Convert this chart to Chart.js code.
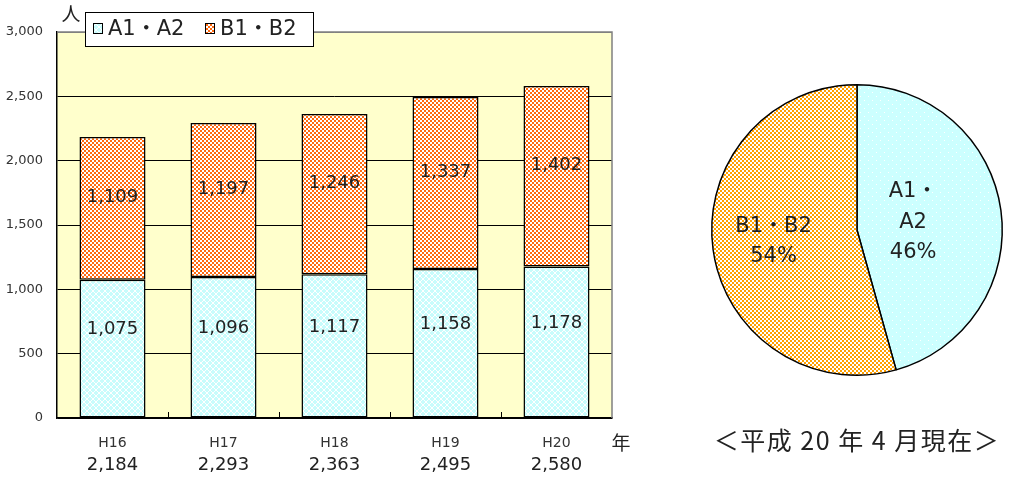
<!DOCTYPE html>
<html lang="ja">
<head>
<meta charset="UTF-8">
<title>療育手帳所持者数の推移</title>
<script src="https://cdn.jsdelivr.net/npm/chart.js"></script>
<style>
  body { margin: 0; background: #fff; width: 1014px; height: 487px; overflow: hidden; position: relative; }
  #barWrap { position: absolute; left: 0; top: 0; width: 660px; height: 487px; }
  #pieWrap { position: absolute; left: 700px; top: 0; width: 314px; height: 487px; }
  #caption { position: absolute; left: 700px; top: 424px; width: 314px; text-align: center;
             font: 25px "Noto Sans CJK JP", sans-serif; line-height: 30px; color: #222; letter-spacing: 1.5px; }
</style>
</head>
<body>
<div id="barWrap"><canvas id="bar"></canvas></div>
<div id="pieWrap"><canvas id="pie"></canvas></div>
<div id="caption">＜平成 20 年 4 月現在＞</div>
<script>
// data
const years = ['H16', 'H17', 'H18', 'H19', 'H20'];
const seriesNames = ['A1・A2', 'B1・B2'];
const a12 = [1075, 1096, 1117, 1158, 1178];
const b12 = [1109, 1197, 1246, 1337, 1402];
const yTicks = [0, 500, 1000, 1500, 2000, 2500, 3000];
const pieLabels = [['A1・', 'A2'], ['B1・B2']];

const numFont = '"DejaVu Sans", "Noto Sans CJK JP", sans-serif';
const jpFont = '"Noto Sans CJK JP", "DejaVu Sans", sans-serif';
const fmt = v => v.toLocaleString('en-US');

Chart.defaults.font.family = numFont;
Chart.defaults.color = '#333';

// small tiles used as fill patterns
function makePattern(ctx, size, bg, fg, cells) {
    const c = document.createElement('canvas');
    c.width = c.height = size;
    const g = c.getContext('2d');
    g.fillStyle = bg;
    g.fillRect(0, 0, size, size);
    g.fillStyle = fg;
    cells.forEach(([x, y, w, h]) => g.fillRect(x, y, w, h));
    return ctx.createPattern(c, 'repeat');
}

const barCtx = document.getElementById('bar').getContext('2d');
const pieCtx = document.getElementById('pie').getContext('2d');

const diag = [];
for (let i = 0; i < 6; i++) { diag.push([i, i, 1, 1]); diag.push([5 - i, i, 1, 1]); }
const checker = [[0, 0, 2, 2], [2, 2, 2, 2]];
const barA = makePattern(barCtx, 6, '#c8fcfc', '#ffffff', diag);
const barB = makePattern(barCtx, 4, '#ff6a10', '#ffffff', checker);
const pieA = makePattern(pieCtx, 8, '#ccffff', '#ffffff', [[0, 0, 1, 1], [4, 4, 1, 1]]);
const pieB = makePattern(pieCtx, 4, '#ffa000', '#ffffff', checker);

const barDecor = {
    id: 'barDecor',
    beforeDraw(chart) {
        const { ctx, chartArea: a } = chart;
        ctx.save();
        ctx.fillStyle = '#ffffcc';
        ctx.fillRect(a.left, a.top, a.right - a.left, a.bottom - a.top);
        ctx.restore();
    },
    afterDraw(chart) {
        const { ctx, chartArea: a, scales } = chart;
        const x = scales.x;
        ctx.save();
        // top / right frame
        ctx.strokeStyle = '#808080';
        ctx.lineWidth = 1.5;
        ctx.beginPath();
        ctx.moveTo(a.left, a.top); ctx.lineTo(a.right, a.top); ctx.lineTo(a.right, a.bottom);
        ctx.stroke();
        // little ticks between categories
        ctx.strokeStyle = '#000';
        ctx.lineWidth = 1;
        const step = (a.right - a.left) / years.length;
        for (let i = 1; i < years.length; i++) {
            const px = Math.round(a.left + step * i) + 0.5;
            ctx.beginPath(); ctx.moveTo(px, a.bottom); ctx.lineTo(px, a.bottom - 6); ctx.stroke();
        }
        // values inside the bars
        ctx.fillStyle = '#222';
        ctx.font = '18px ' + numFont;
        ctx.textAlign = 'center';
        ctx.textBaseline = 'middle';
        const shift = [-19, -11];
        chart.data.datasets.forEach((ds, di) => {
            chart.getDatasetMeta(di).data.forEach((bar, i) => {
                ctx.fillText(fmt(ds.data[i]), bar.x, (bar.y + bar.base) / 2 + shift[di]);
            });
        });
        // totals under the year labels
        years.forEach((y, i) => {
            ctx.fillText(fmt(a12[i] + b12[i]), x.getPixelForValue(i), 465);
        });
        // unit labels
        ctx.font = '19px ' + jpFont;
        ctx.fillText('人', 71, 14);
        ctx.fillText('年', 621, 443);
        // legend
        const lx = 85, ly = 12;
        ctx.fillStyle = '#fff';
        ctx.fillRect(lx, ly, 228, 34);
        ctx.strokeStyle = '#000';
        ctx.lineWidth = 1;
        ctx.strokeRect(lx + 0.5, ly + 0.5, 228, 34);
        const itemX = [93, 205];
        ctx.font = '21px ' + numFont;
        ctx.textAlign = 'left';
        chart.data.datasets.forEach((ds, di) => {
            ctx.fillStyle = ds.backgroundColor;
            ctx.fillRect(itemX[di], ly + 11, 9, 10);
            ctx.strokeRect(itemX[di] + 0.5, ly + 11.5, 9, 10);
            ctx.fillStyle = '#222';
            ctx.fillText(ds.label, itemX[di] + 15, ly + 18);
        });
        ctx.restore();
    }
};

new Chart(barCtx, {
    type: 'bar',
    data: {
        labels: years,
        datasets: [
            { label: seriesNames[0], data: a12, backgroundColor: barA, borderColor: '#000', borderWidth: 1.5, borderSkipped: false },
            { label: seriesNames[1], data: b12, backgroundColor: barB, borderColor: '#000', borderWidth: 1.5, borderSkipped: false }
        ]
    },
    options: {
        responsive: true,
        maintainAspectRatio: false,
        devicePixelRatio: 1,
        animation: false,
        layout: { padding: { top: 32, right: 48, left: 0, bottom: 0 } },
        datasets: { bar: { barPercentage: 0.595, categoryPercentage: 1 } },
        plugins: { legend: { display: false }, tooltip: { enabled: false } },
        scales: {
            x: {
                stacked: true,
                grid: { display: false, drawTicks: false },
                border: { color: '#000', width: 1.5 },
                ticks: { color: '#333', font: { size: 14 }, padding: 17 },
                afterFit: s => { s.height = 69; }
            },
            y: {
                stacked: true,
                min: yTicks[0],
                max: yTicks[yTicks.length - 1],
                afterBuildTicks: s => { s.ticks = yTicks.map(v => ({ value: v })); },
                grid: {
                    drawTicks: false,
                    color: c => (c.tick && c.tick.value === 3000 ? '#808080' : '#000'),
                    lineWidth: 1
                },
                border: { color: '#000', width: 1.5 },
                ticks: { color: '#333', font: { size: 13 }, padding: 14, callback: v => fmt(v) },
                afterFit: s => { s.width = 57; }
            }
        }
    },
    plugins: [barDecor]
});

// pie for the latest year
const last = years.length - 1;
const pieData = [a12[last], b12[last]];

const pieText = {
    id: 'pieText',
    afterDraw(chart) {
        const { ctx } = chart;
        const meta = chart.getDatasetMeta(0);
        const total = pieData.reduce((s, v) => s + v, 0);
        const radiusFactor = [0.39, 0.58];
        ctx.save();
        ctx.fillStyle = '#222';
        ctx.font = '21px ' + numFont;
        ctx.textAlign = 'center';
        ctx.textBaseline = 'middle';
        meta.data.forEach((arc, i) => {
            const mid = (arc.startAngle + arc.endAngle) / 2;
            const r = arc.outerRadius * radiusFactor[i];
            const cx = arc.x + Math.cos(mid) * r;
            const cy = arc.y + Math.sin(mid) * r;
            const lines = pieLabels[i].concat([Math.round(pieData[i] / total * 100) + '%']);
            const lh = 30.5;
            lines.forEach((t, k) => {
                ctx.fillText(t, cx, cy + (k - (lines.length - 1) / 2) * lh);
            });
        });
        ctx.restore();
    }
};

new Chart(pieCtx, {
    type: 'pie',
    data: {
        labels: seriesNames,
        datasets: [{ data: pieData, backgroundColor: [pieA, pieB], borderColor: '#000', borderWidth: 1.5 }]
    },
    options: {
        responsive: true,
        maintainAspectRatio: false,
        devicePixelRatio: 1,
        animation: false,
        layout: { padding: { top: 84, bottom: 111, left: 11, right: 11 } },
        plugins: { legend: { display: false }, tooltip: { enabled: false } }
    },
    plugins: [pieText]
});
</script>
</body>
</html>
